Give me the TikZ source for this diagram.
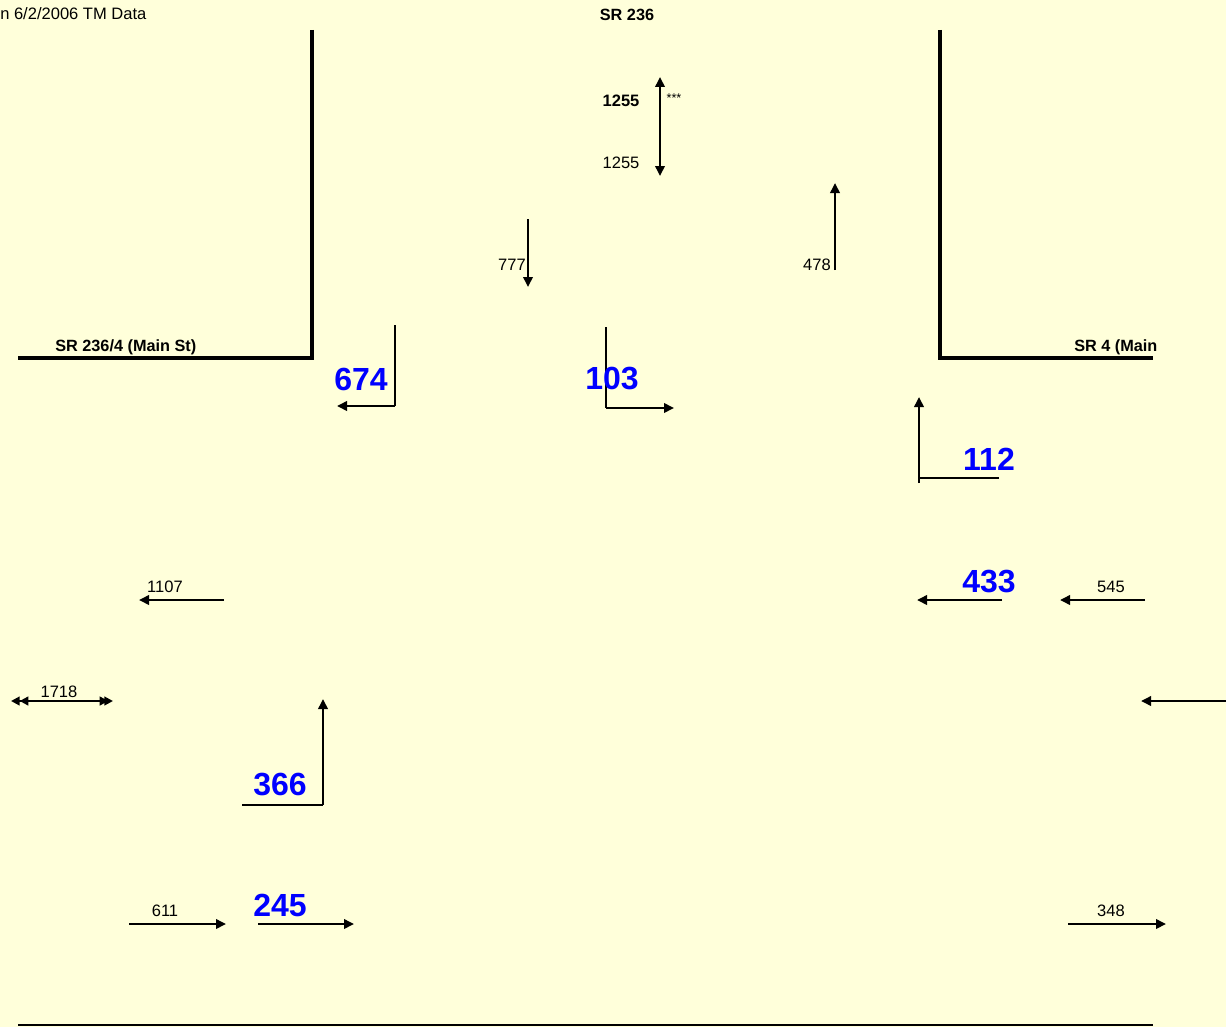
\documentclass[tikz,border=0pt]{standalone}
\usepackage{fontspec}
\setmainfont{Liberation Sans}
\usetikzlibrary{arrows.meta}
\definecolor{bgyellow}{RGB}{255,255,218}
\definecolor{countblue}{RGB}{0,0,255}
\begin{document}
\begin{tikzpicture}[x=0.75pt,y=-0.75pt,
		road/.style={line width=2.4pt},
		flow/.style={line width=2.2pt,-{Triangle[length=7.5pt,width=7pt]}},
		flowtwo/.style={line width=2.2pt,{Triangle[length=7.5pt,width=7pt]}-{Triangle[length=7.5pt,width=7pt]}},
		flowdbl/.style={line width=2.2pt,{Triangle[length=6.5pt,width=6.5pt,sep=-3pt]Triangle[length=6.5pt,width=6.5pt]}-{Triangle[length=6.5pt,width=6.5pt,sep=-3pt]Triangle[length=6.5pt,width=6.5pt]}},
		turn/.style={line width=2.2pt},
		cnt/.style={inner sep=0pt,font=\fontsize{12.4}{14}\selectfont},
		cntbold/.style={inner sep=0pt,font=\fontsize{12.4}{14}\selectfont\bfseries},
		roadname/.style={inner sep=0pt,font=\fontsize{12.2}{14}\selectfont\bfseries},
		turncnt/.style={inner sep=0pt,text=countblue,font=\fontsize{24}{28}\selectfont\bfseries}]
			\useasboundingbox[fill=bgyellow] (0,0) rectangle (1226,1027);
			% header
			\node[cnt, anchor=west] (hdr) at (0,14) {n 6/2/2006 TM Data};
			\node[roadname] (north) at (627,15) {SR 236};
			% roads
			\draw[road] (312,30) -- (312,358) -- (18,358);
			\draw[road] (940,30) -- (940,358) -- (1153,358);
			\node[roadname, anchor=west] (west) at (55,347) {SR 236/4 (Main St)};
			\node[roadname, anchor=west] (east) at (1074,347) {SR 4 (Main};
			\draw[line width=1.4pt] (18,1025) -- (1153,1025);
			% north leg
			\draw[flowtwo] (660,176) -- (660,77);
			\node[cntbold] (nin) at (621,101) {1255};
			\node[cnt] (nout) at (621,163) {1255};
			\node[cnt, font=\fontsize{9.5}{10}\selectfont] (star) at (674,98) {***};
			\draw[flow] (528,219) -- (528,287);
			\node[cnt, anchor=east] (sb) at (526,265) {777};
			\draw[flow] (835,270) -- (835,183);
			\node[cnt, anchor=east] (nb) at (831,265) {478};
			% turning movements
			\draw[turn] (395,325) -- (395,406);
			\draw[flow] (395,406) -- (337,406);
			\node[turncnt] (sbr) at (361,379) {674};
			\draw[turn] (606,327) -- (606,408);
			\draw[flow] (606,408) -- (674,408);
			\node[turncnt] (sbl) at (612,379) {103};
			\draw[turn] (999,478) -- (919,478);
			\draw[flow] (919,483) -- (919,397);
			\node[turncnt] (wbr) at (989,459) {112};
			\draw[flow] (1002,600) -- (917,600);
			\node[turncnt] (wbt) at (989,582) {433};
			\draw[turn] (242,805) -- (323,805);
			\draw[flow] (323,805) -- (323,699);
			\node[turncnt] (ebl) at (280,784) {366};
			\draw[flow] (258,924) -- (354,924);
			\node[turncnt] (ebt) at (280,905) {245};
			% east leg
			\draw[flow] (1145,600) -- (1060,600);
			\node[cnt] (wbin) at (1111,587) {545};
			\draw[flow] (1226,701) -- (1141,701);
			\draw[flow] (1068,924) -- (1166,924);
			\node[cnt] (ebout) at (1111,911) {348};
			% west leg
			\draw[flow] (224,600) -- (139,600);
			\node[cnt] (wbout) at (165,587) {1107};
			\draw[flowdbl] (15,701) -- (113,701);
			\node[cnt] (wtot) at (59,692) {1718};
			\draw[flow] (129,924) -- (226,924);
			\node[cnt] (ebin) at (165,911) {611};
\end{tikzpicture}
\end{document}
